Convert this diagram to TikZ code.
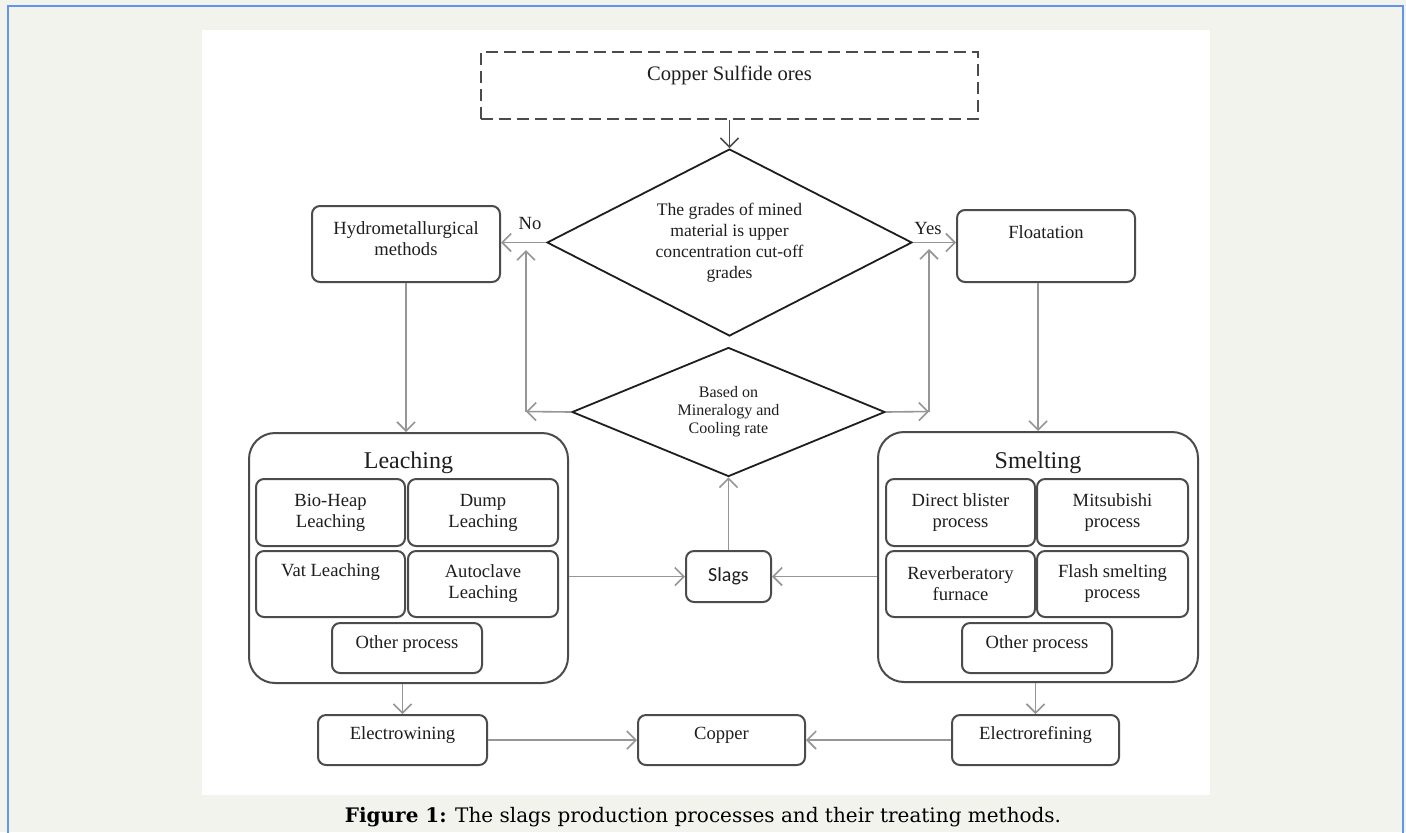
\documentclass[tikz,border=0pt]{standalone}
\usepackage{fontspec}
\setmainfont{Liberation Serif}
\newfontfamily\capfont{DejaVu Serif}
\newfontfamily\slagfont{Carlito}
\usetikzlibrary{shapes.geometric,arrows.meta}
\definecolor{bgc}{RGB}{243,243,238}
\definecolor{bluec}{RGB}{95,150,235}
\definecolor{boxc}{RGB}{75,75,75}
\definecolor{arrc}{RGB}{150,150,150}
\definecolor{txtc}{RGB}{30,30,30}
\begin{document}
\begin{tikzpicture}[x=0.5pt,y=-0.5pt,
  txt/.style={text=txtc, inner sep=0pt, align=center, font=\fontsize{9.3}{10.5}\selectfont},
  box/.style={draw=boxc, line width=1pt, rounded corners=4pt, fill=white, inner sep=0pt, text=txtc, align=center, font=\fontsize{9.3}{10.5}\selectfont},
  bigbox/.style={box, rounded corners=13pt},
  dbox/.style={draw=boxc, line width=1pt, dash pattern=on 6pt off 3pt, inner sep=0pt},
  dia/.style={diamond, draw=txtc, line width=0.9pt, inner sep=0pt, align=center, text=txtc},
  conn/.style={draw=arrc, line width=0.8pt, -{Straight Barb[length=4.5pt,width=9pt]}},
  dconn/.style={conn, draw=boxc},
  title/.style={txt, font=\fontsize{12}{14}\selectfont}
]
\useasboundingbox (0,0) rectangle (1406,832);
\fill[bgc] (0,0) rectangle (1406,832);
\begin{scope}
\clip (0,0) rectangle (1406,832);
\draw[bluec, line width=1pt] (8,6) rectangle (1403,880);
\end{scope}
\fill[white] (202,30) rectangle (1210,795);

% top
\node[dbox, minimum width=248.5pt, minimum height=33.5pt] (ores) at (729.5,85.5) {};
\node[txt, font=\fontsize{10.3}{12}\selectfont] (ores-t) at (729.5,75) {Copper Sulfide ores};

\node[dia, aspect=1.95, minimum width=182.5pt, minimum height=93.5pt, font=\fontsize{8.8}{10.5}\selectfont] (d1) at (729.5,242.5)
  {The grades of mined\\material is upper\\concentration cut-off\\grades};

\node[box, minimum width=94pt, minimum height=38pt] (hydro) at (406,244) {};
\node[txt] (hydro-t) at (406,239) {Hydrometallurgical\\methods};
\node[box, minimum width=89pt, minimum height=36pt] (float) at (1046,246) {};
\node[txt] (float-t) at (1046,232) {Floatation};

\node[txt] (no) at (530,223) {No};
\node[txt] (yes) at (928,228) {Yes};

\node[dia, aspect=2.43, minimum width=156.5pt, minimum height=64.5pt, font=\fontsize{8}{9}\selectfont] (d2) at (728.5,412)
  {Based on\\Mineralogy and\\Cooling rate};

% leaching
\node[bigbox, minimum width=159.5pt, minimum height=125pt] (leach) at (408.5,558) {};
\node[title] (leach-t) at (408.5,463) {Leaching};
\node[box, minimum width=74.5pt, minimum height=33.5pt] (bio) at (330.5,512.5) {Bio-Heap\\Leaching};
\node[box, minimum width=75pt, minimum height=33.5pt] (dump) at (483,512.5) {Dump\\Leaching};
\node[box, minimum width=74.5pt, minimum height=33pt] (vat) at (330.5,584) {};
\node[txt] (vat-t) at (330.5,572) {Vat Leaching};
\node[box, minimum width=75pt, minimum height=33pt] (auto) at (483,584) {Autoclave\\Leaching};
\node[box, minimum width=75pt, minimum height=25pt] (lother) at (407,648) {};
\node[txt] (lother-t) at (407,644) {Other process};

% smelting
\node[bigbox, minimum width=160pt, minimum height=125pt] (smelt) at (1038,557) {};
\node[title] (smelt-t) at (1038,463) {Smelting};
\node[box, minimum width=74.5pt, minimum height=33.5pt] (direct) at (960.5,512.5) {Direct blister\\process};
\node[box, minimum width=75.5pt, minimum height=33.5pt] (mitsu) at (1112.5,512.5) {Mitsubishi\\process};
\node[box, minimum width=74.5pt, minimum height=33pt] (rever) at (960.5,584) {Reverberatory\\furnace};
\node[box, minimum width=75.5pt, minimum height=33pt] (flash) at (1112.5,584) {Flash smelting\\process};
\node[box, minimum width=75pt, minimum height=25pt] (sother) at (1037,648) {};
\node[txt] (sother-t) at (1037,644) {Other process};

% slags
\node[box, minimum width=42.5pt, minimum height=25.5pt, font=\slagfont\fontsize{10}{12}\selectfont] (slags) at (728.5,576.5) {Slags};

% bottom
\node[box, minimum width=84.5pt, minimum height=25pt] (ewin) at (402.5,740) {};
\node[txt] (ewin-t) at (402.5,735) {Electrowining};
\node[box, minimum width=83.5pt, minimum height=25pt] (copper) at (721.5,740) {};
\node[txt] (copper-t) at (721.5,735) {Copper};
\node[box, minimum width=83.5pt, minimum height=25pt] (eref) at (1035.5,740) {};
\node[txt] (eref-t) at (1035.5,735) {Electrorefining};

% caption
\node[text=black, inner sep=0pt, font=\capfont\fontsize{10}{12}\selectfont] (cap) at (703,817)
  {\textbf{Figure 1:} The slags production processes and their treating methods.};

% connectors
\coordinate (lb) at (526,411.5);
\coordinate (lt) at (526,250);
\coordinate (rb) at (929,411.5);
\coordinate (rt) at (929,249);

\draw[dconn] (ores.south) -- (d1.north);
\draw[conn] (d1.west) -- (d1.west -| hydro.east);
\draw[conn] (d1.east) -- (d1.east -| float.west);
\draw[conn] (hydro.south) -- (hydro.south |- leach.north);
\draw[conn] (smelt.north |- float.south) -- (smelt.north);
\draw[conn] (d2.west) -- (lb);
\draw[conn] (lb) -- (lt);
\draw[conn] (d2.east) -- (rb);
\draw[conn] (rb) -- (rt);
\draw[conn] (slags.north) -- (d2.south);
\draw[conn] (leach.east |- slags.west) -- (slags.west);
\draw[conn] (smelt.west |- slags.east) -- (slags.east);
\draw[conn] (ewin.north |- leach.south) -- (ewin.north);
\draw[conn] (eref.north |- smelt.south) -- (eref.north);
\draw[conn] (ewin.east) -- (copper.west);
\draw[conn] (eref.west) -- (copper.east);
\end{tikzpicture}
\end{document}
